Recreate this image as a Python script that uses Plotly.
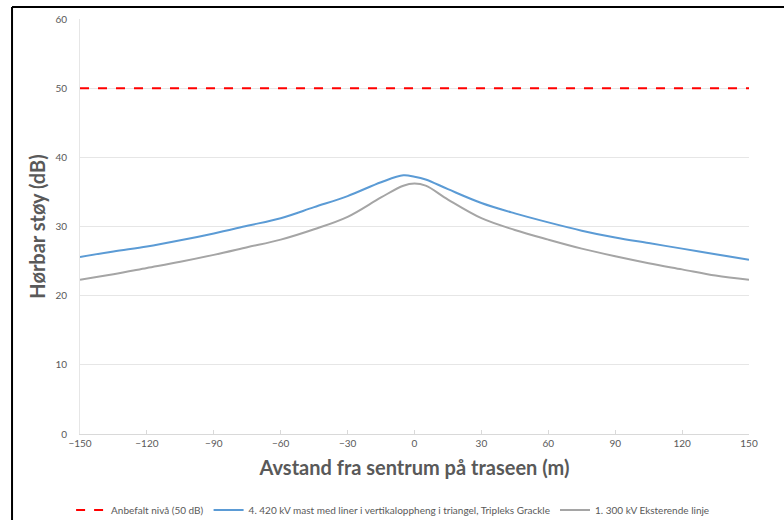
import plotly.graph_objects as go

x_vals = [-150, -135, -120, -105, -90, -75, -60, -45, -30, -15, -5, 0, 5, 15, 30, 45, 60, 75, 90, 105, 120, 135, 150]
blue_vals = [25.6, 26.4, 27.1, 28.0, 29.0, 30.1, 31.2, 32.8, 34.4, 36.4, 37.4, 37.2, 36.8, 35.4, 33.4, 31.9, 30.6, 29.4, 28.4, 27.6, 26.8, 26.0, 25.2]
gray_vals = [22.3, 23.1, 24.0, 24.9, 25.9, 27.0, 28.1, 29.6, 31.4, 34.2, 35.9, 36.2, 35.9, 33.9, 31.2, 29.5, 28.1, 26.8, 25.7, 24.7, 23.8, 22.9, 22.3]
limit_x = [-150, 150]
limit_vals = [50, 50]

names = ["Anbefalt nivå (50 dB)",
         "4. 420 kV mast med liner i vertikaloppheng i triangel, Tripleks Grackle",
         "1. 300 kV Eksterende linje"]

fig = go.Figure()
fig.add_trace(go.Scatter(x=limit_x, y=limit_vals, mode="lines", name=names[0],
                         line=dict(color="#ff0000", width=2, dash="dash")))
fig.add_trace(go.Scatter(x=x_vals, y=blue_vals, mode="lines", name=names[1],
                         line=dict(color="#5b9bd5", width=2, shape="spline", smoothing=1.0)))
fig.add_trace(go.Scatter(x=x_vals, y=gray_vals, mode="lines", name=names[2],
                         line=dict(color="#a5a5a5", width=2, shape="spline", smoothing=1.0)))

axis_font = dict(family="Lato, Open Sans, sans-serif", size=10, color="#595959")
title_font = dict(family="Lato, Open Sans, sans-serif", size=20, color="#595959")

fig.update_layout(
    width=784, height=520,
    margin=dict(l=80, r=35, t=19, b=86, autoexpand=False),
    paper_bgcolor="white", plot_bgcolor="white",
    showlegend=True,
    legend=dict(orientation="h", x=0.468, xanchor="center", y=-0.183, yanchor="middle",
                font=dict(family="Lato, Open Sans, sans-serif", size=10, color="#595959"),
                itemwidth=30, tracegroupgap=0),
    xaxis=dict(range=[-150, 150], tickvals=[-150, -120, -90, -60, -30, 0, 30, 60, 90, 120, 150],
               showgrid=False, zeroline=False, showline=True, linecolor="#d9d9d9", linewidth=1,
               ticks="inside", ticklen=4, tickcolor="#d9d9d9", tickfont=axis_font, automargin=False,
               title=dict(text="<b>Avstand fra sentrum på traseen (m)</b>", font=title_font, standoff=12)),
    yaxis=dict(range=[0, 60], tickvals=[0, 10, 20, 30, 40, 50, 60],
               showgrid=True, gridcolor="#e6e6e6", gridwidth=1, zeroline=False,
               showline=True, linecolor="#e6e6e6", linewidth=1, automargin=False,
               ticks="", tickfont=axis_font, ticklabelstandoff=10,
               title=dict(text="<b>Hørbar støy (dB)</b>", font=title_font, standoff=4)),
    shapes=[
        dict(type="line", xref="paper", yref="paper", x0=-0.1016, x1=-0.1016, y0=1.0289, y1=-0.3,
             line=dict(color="black", width=2)),
        dict(type="line", xref="paper", yref="paper", x0=-0.1016, x1=1.2, y0=1.0289, y1=1.0289,
             line=dict(color="black", width=2)),
    ],
)

fig.write_html("out.html", config={"displayModeBar": False},
               post_script="document.body.style.margin='0';document.body.style.overflow='hidden';")
